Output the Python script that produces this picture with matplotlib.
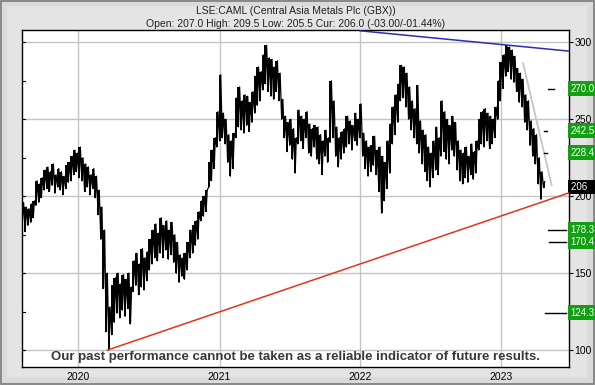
import matplotlib
matplotlib.use('Agg')
import matplotlib.pyplot as plt
import matplotlib.transforms as mtrans
import pandas as pd

# weekly price ranges (pence), one bar per week starting Aug 2019
week_start = '2019-08-09'
lows = [184, 177, 181, 183, 186, 194, 196, 199, 204, 205,
        203, 207, 202, 206, 204, 201, 205, 209, 210, 214,
        216, 212, 210, 203, 206, 201, 205, 199, 188, 172,
        140, 112, 100, 110, 118, 124, 121, 126, 122, 127,
        117, 138, 142, 136, 141, 139, 145, 152, 156, 160,
        158, 163, 160, 165, 159, 162, 157, 150, 144, 148,
        146, 152, 160, 163, 168, 172, 184, 187, 190, 206,
        210, 218, 232, 236, 238, 234, 222, 213, 218, 238,
        245, 243, 241, 246, 242, 248, 254, 259, 262, 269,
        273, 268, 265, 263, 268, 262, 250, 238, 229, 233,
        224, 215, 234, 236, 231, 238, 228, 226, 232, 224,
        221, 214, 226, 222, 235, 238, 226, 219, 224, 228,
        232, 234, 230, 236, 233, 238, 226, 218, 213, 216,
        220, 214, 203, 189, 197, 205, 215, 234, 240, 248,
        262, 264, 258, 250, 243, 238, 234, 228, 221, 216,
        210, 206, 212, 217, 214, 226, 229, 224, 221, 230,
        226, 217, 210, 208, 212, 209, 214, 211, 215, 230,
        234, 232, 236, 231, 234, 238, 250, 262, 270, 278,
        281, 276, 274, 268, 261, 258, 248, 243, 233, 226,
        221, 208, 198, 205.5]
highs = [196, 193, 192, 195, 197, 210, 208, 212, 217, 219,
         216, 221, 214, 218, 216, 213, 220, 222, 226, 230,
         228, 232, 225, 221, 219, 214, 218, 213, 204, 193,
         178, 150, 128, 142, 147, 150, 143, 149, 146, 150,
         141, 158, 163, 156, 166, 160, 164, 172, 178, 182,
         176, 186, 181, 184, 178, 183, 175, 170, 162, 160,
         163, 170, 178, 181, 184, 190, 197, 200, 204, 222,
         230, 238, 255, 279, 254, 250, 240, 236, 241, 264,
         271, 262, 266, 265, 261, 268, 278, 284, 281, 292,
         298, 290, 289, 284, 288, 280, 263, 252, 248, 250,
         244, 238, 256, 252, 250, 255, 247, 244, 246, 245,
         240, 236, 243, 238, 275, 262, 245, 238, 242, 244,
         252, 249, 246, 254, 250, 260, 241, 236, 232, 233,
         239, 230, 232, 226, 222, 236, 247, 258, 266, 273,
         285, 284, 280, 271, 262, 257, 272, 249, 243, 240,
         232, 228, 236, 245, 238, 262, 255, 250, 246, 252,
         248, 236, 230, 228, 232, 226, 234, 229, 236, 250,
         255, 257, 254, 252, 250, 258, 275, 287, 292, 298,
         297, 295, 291, 283, 280, 276, 266, 262, 249, 244,
         240, 225, 216, 209.5]

# trend lines (date, price)
support_dates = ['2020-03-16', '2023-06-26']
support_vals = [100, 202.2]
resist_dates = ['2022-01-01', '2023-06-26']
resist_vals = [307.5, 294.3]
fall_dates = ['2023-02-27', '2023-05-12']
fall_vals = [286.4, 207.2]

# target levels shown on the right
targets = [270.0, 242.5, 228.4, 178.3, 170.4, 124.3]
target_labels = ['270.0', '242.5', '228.4', '178.3', '170.4', '124.3']
current = 206
year_ticks = ['2020-01-01', '2021-01-01', '2022-01-01', '2023-01-01']
year_labels = ['2020', '2021', '2022', '2023']
price_ticks = [100, 150, 200, 250, 300]

plt.rcParams['font.family'] = ['Liberation Sans', 'DejaVu Sans']

fig = plt.figure(figsize=(5.95, 3.85), dpi=100)
fig.patch.set_facecolor('#dadada')
# lighter inner panel, darker outer edge (rough bevel)
fig.patches.append(plt.Rectangle((0.012, 0.02), 0.975, 0.965, transform=fig.transFigure,
                                 facecolor='#e4e4e4', edgecolor='none', zorder=-10))
fig.patches.append(plt.Rectangle((0.002, 0.003), 0.996, 0.994, transform=fig.transFigure,
                                 fill=False, edgecolor='#7a7a7a', linewidth=1.2, zorder=-9))
ax = fig.add_axes([0.0365, 0.0475, 0.9198, 0.8745])
ax.set_facecolor('white')

dates = pd.date_range(week_start, periods=len(lows), freq='7D')
ax.vlines(dates, lows, highs, color='black', linewidth=1.4, zorder=3)
zig_x, zig_y = [], []
for d, lo, hi in zip(dates, lows, highs):
    zig_x += [d, d + pd.Timedelta(days=3)]
    zig_y += [lo, hi]
ax.plot(zig_x, zig_y, color='black', linewidth=0.9, zorder=3)

ax.plot(pd.to_datetime(support_dates), support_vals, color='#e8321e', linewidth=1.1, zorder=4)
ax.plot(pd.to_datetime(resist_dates), resist_vals, color='#2c2cb4', linewidth=1.1, zorder=4)
ax.plot(pd.to_datetime(fall_dates), fall_vals, color='#c9c5ba', linewidth=1.3, zorder=2)

ax.set_xlim(pd.Timestamp('2019-08-07'), pd.Timestamp('2023-06-26'))
ax.set_ylim(89.2, 308)

ax.set_xticks(pd.to_datetime(year_ticks))
ax.set_xticklabels(year_labels, fontsize=7.5)
ax.tick_params(axis='x', length=0, pad=4)
ax.set_yticks(price_ticks)
ax.yaxis.tick_right()
ax.tick_params(axis='y', direction='out', length=3, width=0.8, labelsize=7.5, pad=1)
ax.grid(True, color='#c4c4c4', linewidth=1.0, zorder=0)
ax.set_axisbelow(True)
for s in ax.spines.values():
    s.set_linewidth(1.0)
    s.set_color('black')

# short inward ticks on the left axis
trans = mtrans.blended_transform_factory(ax.transAxes, ax.transData)
for v in [100, 125, 150, 175, 200, 225, 250, 275, 300]:
    ax.plot([0, 0.006], [v, v], color='black', linewidth=0.8, transform=trans, zorder=5)

# target marks and boxes on the right
mark_x = {270.0: (0.961, 0.972), 242.5: (0.955, 0.960), 228.4: (0.955, 0.960),
          178.3: (0.961, 0.995), 170.4: (0.963, 0.995), 124.3: (0.957, 0.995)}
for v, lab in zip(targets, target_labels):
    x0, x1 = mark_x[v]
    ax.plot([x0, x1], [v, v], color='black', linewidth=1.0, transform=trans, zorder=5)
    ax.text(1.003, v, lab, transform=trans, ha='left', va='center', fontsize=7,
            color='white', clip_on=False,
            bbox=dict(boxstyle='square,pad=0.25', facecolor='#10a010', edgecolor='none'))
ax.text(1.003, current, f'{current}  ', transform=trans, ha='left', va='center', fontsize=7,
        color='white', clip_on=False,
        bbox=dict(boxstyle='square,pad=0.25', facecolor='black', edgecolor='none'))

fig.text(0.497, 0.972, 'LSE:CAML (Central Asia Metals Plc (GBX))', ha='center', va='center',
         fontsize=7.5, color='#202020')
fig.text(0.497, 0.937, 'Open: 207.0 High: 209.5 Low: 205.5 Cur: 206.0 (-03.00/-01.44%)',
         ha='center', va='center', fontsize=7.5, color='#202020')
ax.text(0.5, 0.028, 'Our past performance cannot be taken as a reliable indicator of future results.',
        transform=ax.transAxes, ha='center', va='center', fontsize=9.5, fontweight='bold',
        color='#383838', zorder=6)

fig.savefig('out.png', dpi=100, facecolor=fig.get_facecolor())
